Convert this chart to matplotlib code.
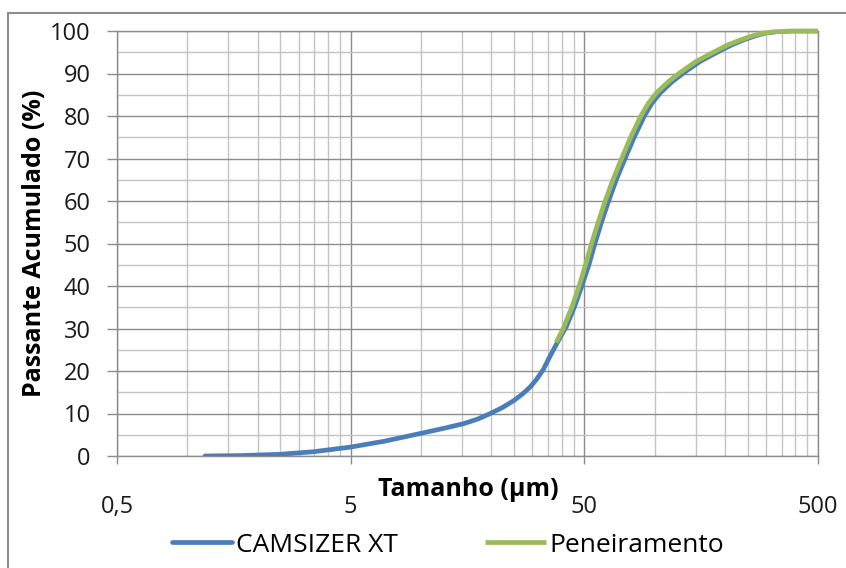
import matplotlib
matplotlib.use("Agg")
import matplotlib.pyplot as plt
from matplotlib.patches import Rectangle
from matplotlib.ticker import FixedLocator, FixedFormatter, NullFormatter

plt.rcParams["font.family"] = ["Open Sans", "DejaVu Sans"]

# --------------------------------------------------
# Data (size in um, cumulative passing in %)
# --------------------------------------------------
cam_size = [1.19, 1.7, 2.49, 3.46, 5.0, 7.0, 9.93, 12.5, 15.2, 17.5, 19.8,
            22.3, 24.9, 27.2, 29.4, 31.4, 33.4, 35.3, 37.3, 39.5, 41.9,
            45.3, 48.8, 52.3, 55.5, 59.2, 63.5, 68.5, 74.7, 81.7, 90.3,
            97.3, 106.0, 118.5, 133.5, 156.0, 185.0, 213.0, 240.0, 268.0,
            296.0, 336.0, 392.0, 500.0]
cam_pass = [0.0, 0.1, 0.4, 1.0, 2.1, 3.5, 5.3, 6.5, 7.6, 8.7, 10.0,
            11.4, 13.0, 14.6, 16.3, 18.2, 20.4, 23.0, 25.5, 28.0, 30.5,
            35.0, 40.0, 45.0, 50.0, 55.0, 60.0, 65.0, 70.0, 75.0, 80.0,
            83.0, 85.5, 88.0, 90.2, 92.8, 95.0, 96.7, 97.9, 98.8,
            99.5, 99.85, 100.0, 100.0]

sieve_size = [37.9, 40.6, 44.2, 47.5, 50.6, 53.7, 57.3, 61.4, 66.3, 72.2,
              78.9, 87.2, 94.0, 102.0, 114.0, 128.3, 150.0, 178.3, 205.0,
              232.8, 260.0, 289.0, 330.0, 385.0, 500.0]
sieve_pass = [26.7, 30.0, 35.0, 40.0, 45.0, 50.0, 55.0, 60.0, 65.0, 70.0,
              75.0, 80.0, 83.0, 85.5, 88.0, 90.2, 92.8, 95.0, 96.7,
              97.9, 98.8, 99.5, 99.85, 100.0, 100.0]

x_ticks = [0.5, 5, 50, 500]
x_tick_labels = ["0,5", "5", "50", "500"]
y_ticks = list(range(0, 101, 10))

# --------------------------------------------------
# Plot
# --------------------------------------------------
fig = plt.figure(figsize=(8.46, 5.68), dpi=100)
ax = fig.add_axes([117 / 846, 1 - 456 / 568, 701 / 846, 425 / 568])

ax.set_xscale("log")
ax.set_xlim(0.5, 500)
ax.set_ylim(0, 100)

minor_x = [d * k for d in [0.5, 5, 50] for k in range(2, 10)]
ax.xaxis.set_major_locator(FixedLocator(x_ticks))
ax.xaxis.set_major_formatter(FixedFormatter(x_tick_labels))
ax.xaxis.set_minor_locator(FixedLocator(minor_x))
ax.xaxis.set_minor_formatter(NullFormatter())
ax.yaxis.set_major_locator(FixedLocator(y_ticks))
ax.yaxis.set_minor_locator(FixedLocator(list(range(5, 100, 10))))

ax.grid(True, which="major", color="#8c8c8c", linewidth=1.0)
ax.grid(True, which="minor", color="#c4c4c4", linewidth=1.0)
ax.set_axisbelow(True)

for s in ax.spines.values():
    s.set_color("#8c8c8c")
    s.set_linewidth(1.0)

ax.tick_params(axis="y", which="major", length=7, width=1, color="#8c8c8c",
               pad=12, labelsize=17, labelcolor="#1a1a1a")
ax.tick_params(axis="x", which="major", length=6, width=1, color="#8c8c8c",
               pad=22, labelsize=17, labelcolor="#1a1a1a")
ax.tick_params(which="minor", length=0)

ax.plot(cam_size, cam_pass, color="#4a7ebb", linewidth=3.4,
        solid_capstyle="round", solid_joinstyle="round",
        label="CAMSIZER XT", zorder=3)
ax.plot(sieve_size, sieve_pass, color="#9bbb59", linewidth=3.4,
        solid_capstyle="butt", solid_joinstyle="round",
        label="Peneiramento", zorder=4, clip_on=False)

ax.set_xlabel("Tamanho (µm)", fontsize=18, fontweight="bold", va="center")
ax.xaxis.set_label_coords(0.501, -0.08)
ax.set_ylabel("Passante Acumulado (%)", fontsize=18, fontweight="bold",
              va="center")
ax.yaxis.set_label_coords(-0.118, 0.5)

fig.legend(loc="center", bbox_to_anchor=(448 / 846, 1 - 545 / 568), ncol=2,
           frameon=False, fontsize=19, handlelength=2.3, handletextpad=0.15,
           columnspacing=3.3)

# outer chart frame
fig.patches.append(Rectangle((8 / 846, -0.1), 1.2, 0.1 + 1 - 13 / 568,
                             transform=fig.transFigure, fill=False,
                             edgecolor="#8c8c8c", linewidth=1.5))

fig.savefig("out.png", dpi=100)
